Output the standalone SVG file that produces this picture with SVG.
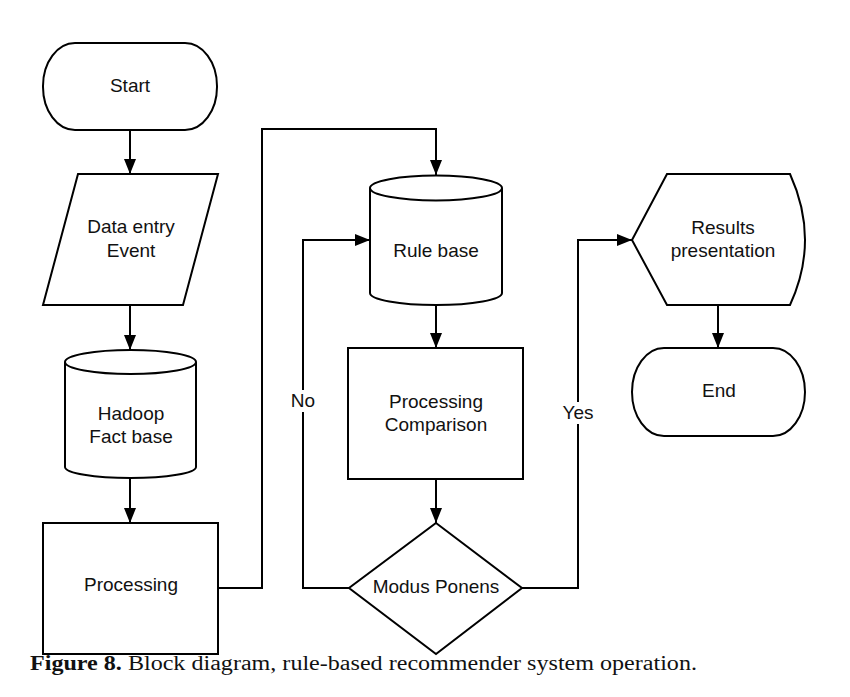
<svg xmlns="http://www.w3.org/2000/svg" width="850" height="697" viewBox="0 0 850 697">
<style>
.shape{fill:#fff;stroke:#000;stroke-width:2}
.lbl{font-family:"Liberation Sans",Arial,sans-serif;font-size:19px;fill:#111;text-anchor:middle}
.conn{fill:none;stroke:#000;stroke-width:2}
.cap{font-family:"Liberation Serif","Times New Roman",serif;font-size:20px;fill:#111}
</style>
<defs>
<marker id="arr" viewBox="0 0 15 12" refX="15" refY="6" markerWidth="15" markerHeight="12" markerUnits="userSpaceOnUse" orient="auto">
<path d="M0,0 L15,6 L0,12 z" fill="#000"/>
</marker>
</defs>
<rect width="850" height="697" fill="#fff"/>

<g id="connectors">
<path class="conn" marker-end="url(#arr)" d="M130,130 L130,174"/>
<path class="conn" marker-end="url(#arr)" d="M130,305 L130,350"/>
<path class="conn" marker-end="url(#arr)" d="M130,478 L130,523"/>
<path class="conn" marker-end="url(#arr)" d="M218,588 L262,588 L262,129 L436,129 L436,175"/>
<path class="conn" marker-end="url(#arr)" d="M436,305 L436,348"/>
<path class="conn" marker-end="url(#arr)" d="M436,479 L436,523"/>
<path class="conn" marker-end="url(#arr)" d="M349,588 L303,588 L303,240 L370,240"/>
<path class="conn" marker-end="url(#arr)" d="M522,588 L578,588 L578,240 L632,240"/>
<path class="conn" marker-end="url(#arr)" d="M718,305 L718,348"/>
<rect x="289" y="390" width="28" height="22" fill="#fff"/>
<text class="lbl" x="303" y="407">No</text>
<rect x="560" y="402" width="35" height="22" fill="#fff"/>
<text class="lbl" x="578" y="419">Yes</text>
</g>

<g id="start">
<rect class="shape" x="43" y="43" width="174" height="87" rx="32" ry="43"/>
<text class="lbl" x="130" y="92">Start</text>
</g>

<g id="data-entry">
<path class="shape" d="M78,174 L218,174 L183,305 L43,305 Z"/>
<text class="lbl" x="131" y="233">Data entry</text>
<text class="lbl" x="131" y="257">Event</text>
</g>

<g id="hadoop">
<path class="shape" d="M65,362 L65,467 A65.5,11 0 0 0 196,467 L196,362 A65.5,12 0 0 0 65,362 Z"/>
<path class="conn" d="M65,362 A65.5,12 0 0 0 196,362"/>
<text class="lbl" x="131" y="420">Hadoop</text>
<text class="lbl" x="131" y="443">Fact base</text>
</g>

<g id="processing">
<rect class="shape" x="43" y="523" width="175" height="131"/>
<text class="lbl" x="131" y="591">Processing</text>
</g>

<g id="rule-base">
<path class="shape" d="M370,188 L370,293 A66,12 0 0 0 502,293 L502,188 A66,12.5 0 0 0 370,188 Z"/>
<path class="conn" d="M370,188 A66,12.5 0 0 0 502,188"/>
<text class="lbl" x="436" y="257">Rule base</text>
</g>

<g id="processing-comparison">
<rect class="shape" x="348" y="348" width="175" height="131"/>
<text class="lbl" x="436" y="408">Processing</text>
<text class="lbl" x="436" y="431">Comparison</text>
</g>

<g id="modus-ponens">
<path class="shape" d="M436,523 L522,588 L436,654 L349,588 Z"/>
<text class="lbl" x="436" y="593">Modus Ponens</text>
</g>

<g id="results">
<path class="shape" d="M632,240 L667,174 L790,174 Q820,240 790,305 L667,305 Z"/>
<text class="lbl" x="723" y="234">Results</text>
<text class="lbl" x="723" y="257">presentation</text>
</g>

<g id="end">
<rect class="shape" x="632" y="348" width="173" height="88" rx="32" ry="44"/>
<text class="lbl" x="719" y="397">End</text>
</g>

<text class="cap" x="30" y="670" textLength="667" lengthAdjust="spacingAndGlyphs"><tspan font-weight="bold">Figure 8.</tspan> Block diagram, rule-based recommender system operation.</text>
</svg>
